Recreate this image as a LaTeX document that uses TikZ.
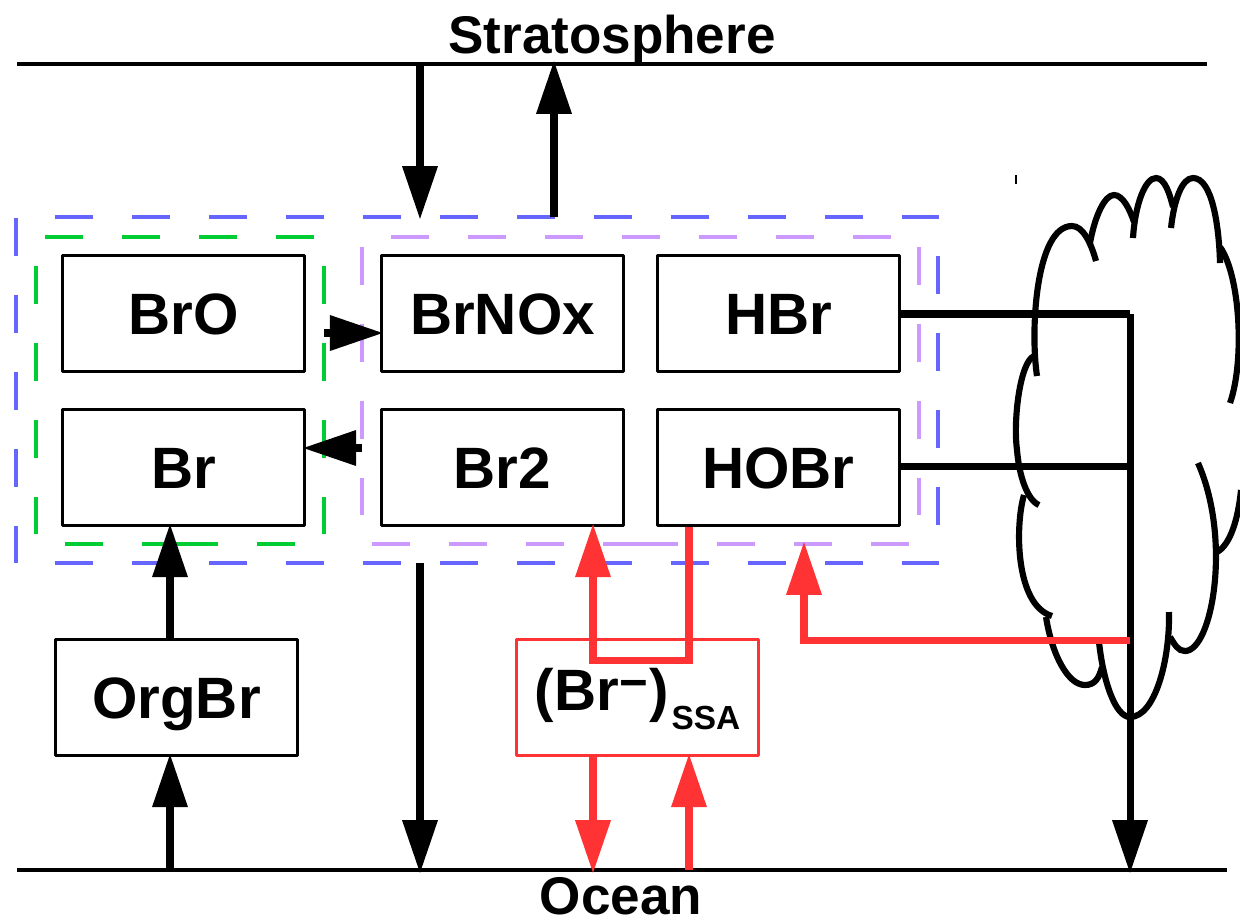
\documentclass[tikz,border=0pt]{standalone}
\usepackage{fontspec}
\setmainfont{Liberation Sans}[BoldFont={Liberation Sans Bold}]
\usetikzlibrary{arrows.meta,calc,positioning}
\definecolor{dashblue}{HTML}{6666FF}
\definecolor{dashgreen}{HTML}{00CC33}
\definecolor{dashpurple}{HTML}{CC99FF}
\definecolor{ssared}{HTML}{FF3333}
\tikzset{
  species/.style={draw,line width=1.7pt,line join=round,minimum width=4.85cm,minimum height=2.33cm,
    inner sep=0pt,text height=23.5pt,text depth=0pt,font=\fontsize{33.2}{36}\selectfont\bfseries},
  layer/.style={inner sep=0pt,font=\fontsize{30.2}{32}\selectfont\bfseries},
  bound/.style={line width=2pt},
  flux/.style={line width=4pt,shorten >=-2pt,-{Triangle[length=1.07cm,width=.68cm]}},
  link/.style={line width=4pt},
  family/.style={line width=2pt,dash pattern=on .76cm off .78cm},
  cloudline/.style={line width=3.5pt},
}
\begin{document}
\begin{tikzpicture}[x=0.02cm,y=-0.02cm]
  \useasboundingbox (0,0) rectangle (1240,917);
  % dashed groups
  \draw[family,dashblue] (55,217) -- (939,217) (55,563) -- (939,563)
    (16,218) -- (16,563) (938,256) -- (938,525);
  \draw[family,dashgreen] (45,237) -- (314,237) (36,266) -- (36,534) (324,266) -- (324,534)
    (65,544) -- (180,544) (295,544) -- (180,544);
  \draw[family,dashpurple] (391,237) -- (891,237) (362,247) -- (362,515) (919,247) -- (919,515)
    (372,544) -- (640,544) (909,544) -- (640,544);
  % species
  \node[species] (BrO) at (183.5,313.5) {BrO};
  \node[species] (Br) at (183.5,467.5) {Br};
  \node[species] (BrNOx) at (502.5,313.5) {BrNOx};
  \node[species] (HBr) at (778.5,313.5) {HBr};
  \node[species] (Br2) at (502.5,467.5) {Br2};
  \node[species] (HOBr) at (778.5,467.5) {HOBr};
  \node[species] (OrgBr) at (176.5,697.5) {OrgBr};
  \node[species,draw=ssared,text depth=8.2pt] (SSA) at (637.5,697.5)
    {(Br\kern.5pt\raisebox{6.5pt}{\fontsize{28}{28}\selectfont −}\kern.5pt)\kern1.5pt\raisebox{-10.8pt}{\fontsize{19}{20}\selectfont SSA}};
  % layers
  \node[layer,anchor=base] (Strat) at (612,53) {Stratosphere};
  \node[layer,anchor=base] (Ocean) at (621,914) {Ocean};
  \coordinate (stratL) at (17,64);
  \coordinate (stratR) at (1207,64);
  \coordinate (oceanL) at (17,870);
  \coordinate (oceanR) at (1227,870);
  \draw[bound] (stratL) -- (stratR);
  \draw[bound] (oceanL) -- (oceanR);
  % cloud
  \draw[cloudline] (1037,376) .. controls (1030,330) and (1036,226) .. (1072,226) .. controls (1083,226) and (1091,243) .. (1096,261);
  \draw[cloudline] (1090,243) .. controls (1095,215) and (1105,195) .. (1114,195) .. controls (1123,195) and (1130,210) .. (1134,222);
  \draw[cloudline] (1133,238) .. controls (1135,205) and (1145,178) .. (1156,178) .. controls (1165,178) and (1170,195) .. (1173,207);
  \draw[cloudline] (1171,228) .. controls (1174,200) and (1182,178) .. (1193,178) .. controls (1212,178) and (1219,225) .. (1220,263);
  \draw[cloudline] (1220,247) .. controls (1240,275) and (1245,360) .. (1230,403);
  \draw[cloudline] (1034,356) .. controls (1020,362) and (1013,420) .. (1017,450) .. controls (1019,475) and (1027,500) .. (1039,505);
  \draw[cloudline] (1024,495) .. controls (1015,525) and (1015,605) .. (1052,616);
  \draw[cloudline] (1046,617) .. controls (1052,655) and (1068,685) .. (1085,685) .. controls (1095,685) and (1099,678) .. (1102,667);
  \draw[cloudline] (1099,642) .. controls (1103,680) and (1115,717) .. (1130,717) .. controls (1155,717) and (1170,660) .. (1169,612);
  \draw[cloudline] (1170,637) .. controls (1175,645) and (1178,651) .. (1185,651) .. controls (1212,651) and (1232,540) .. (1198,463);
  \draw[cloudline] (1217,552) .. controls (1230,545) and (1238,520) .. (1241,490);
  \coordinate (tickA) at (1016,175);
  \coordinate (tickB) at (1016,184);
  \draw[line width=1pt] (tickA) -- (tickB);
  % fluxes
  \coordinate (strDown) at (420,64);
  \coordinate (strDownEnd) at (420,216);
  \coordinate (strUp) at (554,217);
  \coordinate (strUpEnd) at (554,64);
  \draw[flux] (strDown) -- (strDownEnd);
  \draw[flux] (strUp) -- (strUpEnd);
  \coordinate (BrOout) at (324,333);
  \coordinate (Br2out) at (362,448);
  \draw[flux] (BrOout) -- (BrOout -| BrNOx.west);
  \draw[flux] (Br2out) -- (Br2out -| Br.east);
  \coordinate (orgTop) at (170,640);
  \coordinate (orgBot) at (170,870);
  \draw[flux] (orgTop) -- (orgTop |- Br.south);
  \draw[flux] (orgBot) -- (orgBot |- OrgBr.south);
  \coordinate (depTop) at (420,563);
  \draw[flux] (depTop) -- (depTop |- oceanL);
  % wet removal
  \coordinate (cloudX) at (1130,314);
  \draw[link] (cloudX -| HBr.east) -- (cloudX);
  \coordinate (cloudY) at (1130,466.5);
  \draw[link] (cloudY -| HOBr.east) -- (cloudY);
  \draw[flux] (cloudX) -- (cloudX |- oceanR);
  % aerosol
  \coordinate (ssaL) at (593,660);
  \coordinate (ssaR) at (689,660);
  \draw[flux,ssared] (ssaR |- HOBr.south) -- (ssaR) -- (ssaL) -- (ssaL |- Br2.south);
  \coordinate (ssaOut) at (593,755);
  \coordinate (ssaIn) at (689,870);
  \draw[flux,ssared] (ssaOut) -- (ssaOut |- oceanL);
  \draw[flux,ssared] (ssaIn) -- (ssaIn |- SSA.south);
  \coordinate (cloudRed) at (1130,640);
  \coordinate (redCorner) at (804,640);
  \coordinate (redEnd) at (804,545);
  \draw[flux,ssared] (cloudRed) -- (redCorner) -- (redEnd);
\end{tikzpicture}
\end{document}
